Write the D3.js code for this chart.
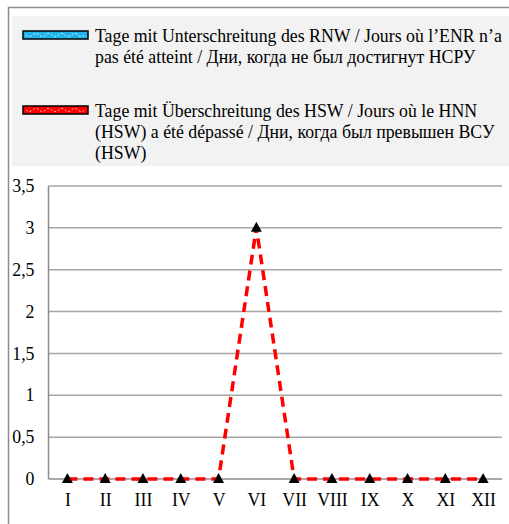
<!DOCTYPE html>
<html><head><meta charset="utf-8">
<script src="https://cdn.jsdelivr.net/npm/d3@7"></script>
<style>body{margin:0;background:#fff}svg{display:block}svg text{font-family:"Liberation Serif",Tinos,"Times New Roman","DejaVu Serif",serif !important;}</style>
</head><body>
<script>
const months = ["I","II","III","IV","V","VI","VII","VIII","IX","X","XI","XII"];
const hswDays = [0,0,0,0,0,3,0,0,0,0,0,0];
const yTicks = [0,0.5,1,1.5,2,2.5,3,3.5];
const legendItems = [
  {color:"#1fb4ec", lines:["Tage mit Unterschreitung des RNW / Jours où l’ENR n’a","pas été atteint / Дни, когда не был достигнут НСРУ"]},
  {color:"#ff0000", lines:["Tage mit Überschreitung des HSW / Jours où le HNN","(HSW) a été dépassé / Дни, когда был превышен ВСУ","(HSW)"]}
];

(function(){
const W=509,H=524;
const svg=d3.select("body").append("svg").attr("width",W).attr("height",H);
const fs=17.8;

svg.append("path").attr("d","M8.5,524 V7.5 H509").attr("fill","none").attr("stroke","#8c8c8c").attr("stroke-width",1.5);
svg.append("rect").attr("x",12).attr("y",16).attr("width",497).attr("height",150).attr("fill","#f2f2f2");

const legendY=[31,106];
legendItems.forEach((it,i)=>{
  const g=svg.append("g");
  const y0=legendY[i];
  g.append("rect").attr("x",23).attr("y",y0).attr("width",65).attr("height",8).attr("fill",it.color).attr("stroke","#000").attr("stroke-width",1.5);
  let d="";
  for(let xx=26;xx<=85;xx+=0.5){const yy=y0+4+1.6*Math.sin((xx-26)/13*2*Math.PI);d+=(d?"L":"M")+xx+","+yy;}
  g.append("path").attr("d",d).attr("fill","none").attr("stroke","#fff").attr("stroke-width",1).attr("stroke-dasharray","2,2").attr("opacity",0.85);
  const t=g.append("text").attr("x",95).attr("y",y0+11).style("font-size",fs+"px").attr("fill","#000");
  it.lines.forEach((l,j)=>t.append("tspan").attr("x",95).attr("dy",j?21:0).text(l));
});

const pLeft=48.5,pRight=502,pTop=186,pBottom=479;
const x=d3.scalePoint().domain(months).range([pLeft,pRight]).padding(0.5);
const y=d3.scaleLinear().domain([0,3.5]).range([pBottom,pTop]);

const grid=svg.append("g");
yTicks.forEach(v=>{
  grid.append("line").attr("x1",pLeft).attr("x2",pRight).attr("y1",y(v)).attr("y2",y(v))
    .attr("stroke",v===0?"#8c8c8c":"#a6a6a6").attr("stroke-width",1.5);
});
grid.append("line").attr("x1",pLeft).attr("x2",pLeft).attr("y1",pTop).attr("y2",pBottom).attr("stroke","#8c8c8c").attr("stroke-width",1.5);

const yAxis=d3.axisLeft(y).tickValues(yTicks).tickSize(0).tickPadding(14)
  .tickFormat(d=>String(d).replace(".",","));
const ya=svg.append("g").attr("transform",`translate(${pLeft},0)`).call(yAxis);
ya.select(".domain").remove();
ya.attr("font-size",null).attr("font-family",null);
ya.selectAll("text").style("font-size",fs+"px").attr("fill","#000");

const xAxis=d3.axisBottom(x).tickSize(0).tickPadding(14);
const xa=svg.append("g").attr("transform",`translate(0,${pBottom})`).call(xAxis);
xa.select(".domain").remove();
xa.attr("font-size",null).attr("font-family",null);
xa.selectAll("text").style("font-size",fs+"px").attr("fill","#000");

const data=months.map((m,i)=>({m,v:hswDays[i]}));
const line=d3.line().x(d=>x(d.m)).y(d=>y(d.v));
svg.append("path").datum(data).attr("d",line).attr("fill","none").attr("stroke","#ff0000")
  .attr("stroke-width",3.5).attr("stroke-dasharray","10,6");

svg.append("g").selectAll("path").data(data).join("path")
  .attr("transform",d=>`translate(${x(d.m)},${y(d.v)})`)
  .attr("d","M0,-6 L5.5,4 L-5.5,4 Z").attr("fill","#000");
})();
</script>
</body></html>
